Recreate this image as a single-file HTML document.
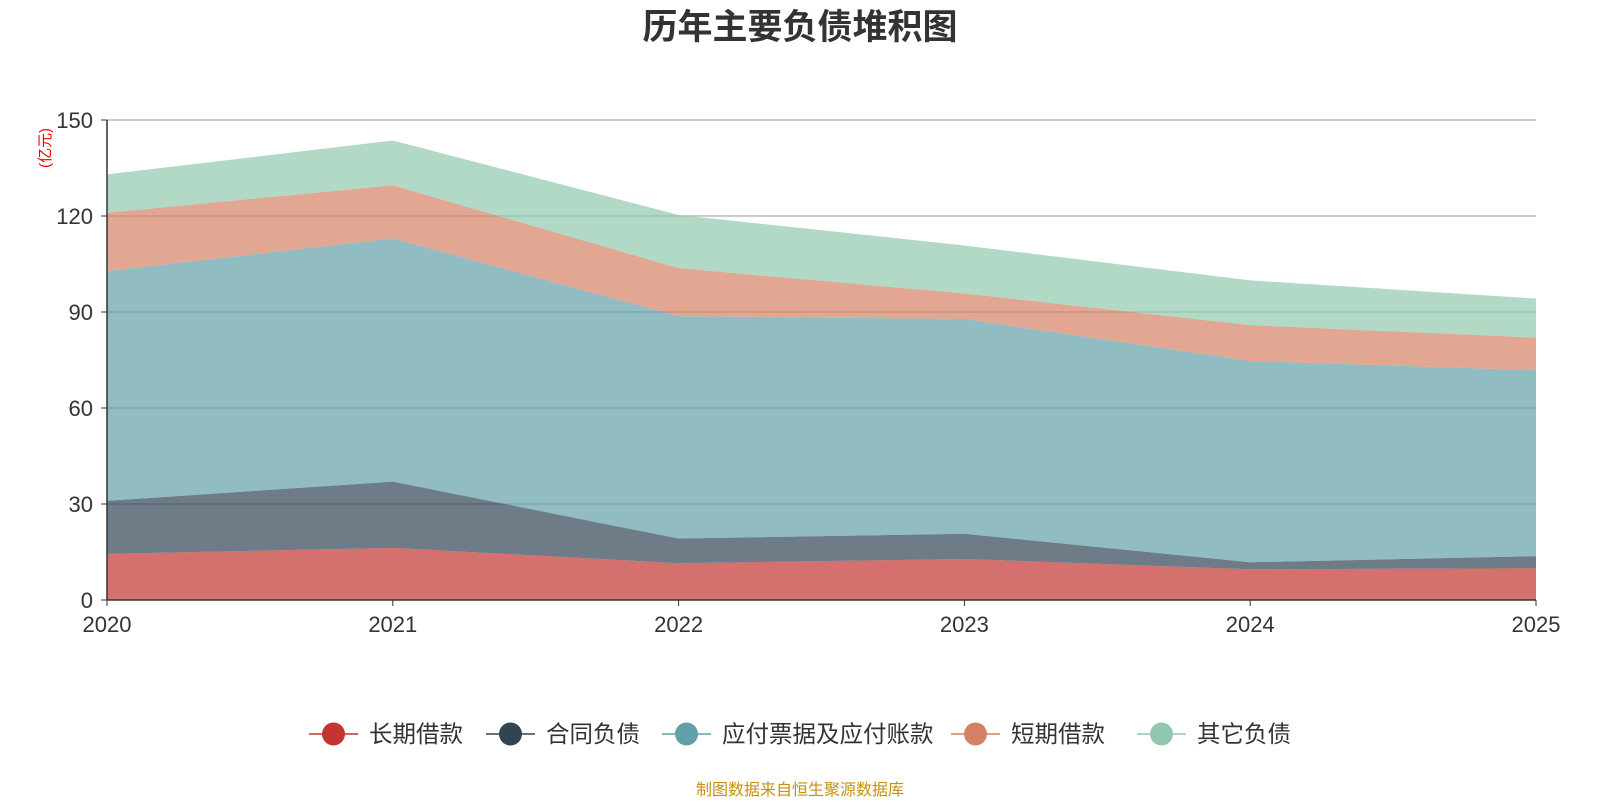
<!DOCTYPE html>
<html><head><meta charset="utf-8"><style>
body{margin:0;background:#fff;width:1600px;height:800px;overflow:hidden;font-family:"Liberation Sans","Noto Sans CJK SC",sans-serif}
</style></head><body>
<svg id="chart" width="1600" height="800" xmlns="http://www.w3.org/2000/svg">
<text x="800" y="39" text-anchor="middle" font-size="35" font-weight="bold" fill="#333" font-family="Liberation Sans,Noto Sans CJK SC,sans-serif">历年主要负债堆积图</text>
<text transform="translate(50,148) rotate(-90)" text-anchor="middle" font-size="15" fill="#e00" font-family="Liberation Sans,Noto Sans CJK SC,sans-serif">(亿元)</text>
<g id="grid"></g><g id="areas"></g><g id="axes"></g><g id="legend"></g>
<text x="800" y="795" text-anchor="middle" font-size="16" fill="#c8900f" font-family="Liberation Sans,Noto Sans CJK SC,sans-serif">制图数据来自恒生聚源数据库</text>
</svg>
<script>
const years=['2020','2021','2022','2023','2024','2025'];
const yTicks=[0,30,60,90,120,150];
const seriesNames=['长期借款','合同负债','应付票据及应付账款','短期借款','其它负债'];
const longLoan=[14.4,16.3,11.5,12.8,9.6,9.9];
const contractLiab=[16.6,20.7,7.7,7.9,2.2,3.8];
const payables=[71.8,76,69.5,67.1,62.9,58.1];
const shortLoan=[18.2,16.6,15,8,11.2,10.2];
const otherLiab=[12,14,16.6,15,14,12.2];
const colors=['#c23531','#2f4554','#61a0a8','#d48265','#91c7ae'];
const x0=107,x1=1536,y0=600,y1=120,yMax=150;
const X=i=>x0+i*(x1-x0)/(years.length-1);
const Y=v=>y0-v/yMax*(y0-y1);
const NS='http://www.w3.org/2000/svg';
function mk(tag,attrs,parent){const e=document.createElementNS(NS,tag);for(const k in attrs)e.setAttribute(k,attrs[k]);parent.appendChild(e);return e;}
const grid=document.getElementById('grid'),areas=document.getElementById('areas'),axes=document.getElementById('axes'),legend=document.getElementById('legend');
const F='Liberation Sans,Noto Sans CJK SC,sans-serif';
yTicks.forEach(t=>{
 if(t>0){const l=mk('line',{x1:x0,x2:x1,y1:Y(t),y2:Y(t),stroke:'#bbb','stroke-width':1.5},grid);
 }
 const tx=mk('text',{x:x0-14,y:Y(t)+8,'text-anchor':'end','font-size':22,fill:'#333','font-family':F},axes);tx.textContent=t;
 
 const tk=mk('line',{x1:x0-6,x2:x0,y1:Y(t),y2:Y(t),stroke:'#333'},axes);
 
});
const all=[longLoan,contractLiab,payables,shortLoan,otherLiab];
let base=years.map(()=>0);
all.forEach((s,si)=>{
 const top=base.map((b,i)=>b+s[i]);
 let d='M'+top.map((v,i)=>X(i)+','+Y(v)).join('L');
 for(let i=years.length-1;i>=0;i--)d+='L'+X(i)+','+Y(base[i]);
 const p=mk('path',{d:d+'Z',fill:colors[si],'fill-opacity':0.7},areas);
 
 base=top;
});
const ax=mk('line',{x1:x0,x2:x0,y1:y1,y2:y0,stroke:'#333','stroke-width':1.5},axes);

const bx=mk('line',{x1:x0,x2:x1,y1:y0,y2:y0,stroke:'#333','stroke-width':1.5},axes);

years.forEach((yr,i)=>{
 const tk=mk('line',{x1:X(i),x2:X(i),y1:y0,y2:y0+6,stroke:'#333'},axes);
 
 const t=mk('text',{x:X(i),y:y0+32,'text-anchor':'middle','font-size':22,fill:'#333','font-family':F},axes);t.textContent=yr;
 
});
const lx=[309,486,662,951,1137];
seriesNames.forEach((n,i)=>{
 const g=mk('g',{},legend);
 
 mk('line',{x1:lx[i],x2:lx[i]+49,y1:734,y2:734,stroke:colors[i],'stroke-width':1.5},g);
 mk('circle',{cx:lx[i]+24.5,cy:734,r:11.5,fill:colors[i]},g);
 const t=mk('text',{x:lx[i]+60,y:742,'font-size':23.5,fill:'#333','font-family':F},g);t.textContent=n;
});
</script>
</body></html>
